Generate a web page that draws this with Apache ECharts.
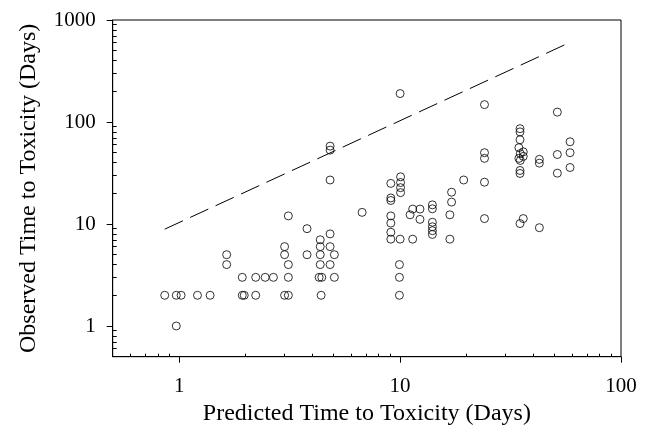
<!DOCTYPE html>
<html>
<head>
<meta charset="utf-8">
<script src="https://cdn.jsdelivr.net/npm/echarts@6/dist/echarts.min.js"></script>
<style>html,body{margin:0;padding:0;background:#fff}#c{width:652px;height:438px}</style>
</head>
<body>
<div id="c"></div>
<script>
// Observed vs predicted time to toxicity (days)
var predicted = [
  0.86, 0.97, 1.02, 0.97, 1.21, 1.38,
  1.64, 1.64,
  1.93, 1.93, 1.97,
  2.22, 2.22, 2.45, 2.67,
  3.0, 3.0, 3.12, 3.12, 3.0, 3.12, 3.12,
  3.79, 3.79,
  4.35, 4.35, 4.35, 4.35, 4.3, 4.42, 4.39,
  4.82, 4.82, 4.82, 5.04, 5.04,
  4.82, 4.82, 4.82,
  6.73,
  9.08, 9.08, 9.08, 9.08, 9.08, 9.08, 9.08,
  10.0, 10.05, 10.05, 10.05, 10.05, 10.0, 9.93, 9.93, 9.93,
  11.4, 11.1, 11.4,
  12.3, 12.3,
  14.0, 14.0, 14.0, 14.0, 14.0, 14.0,
  17.1, 17.1, 16.8, 16.8,
  19.4,
  24.1, 24.1, 24.1, 24.1, 24.1,
  34.9, 34.9, 34.9, 34.5, 36.1, 35.0, 36.1, 34.5, 35.0, 34.9, 34.9, 34.9, 36.1,
  42.7, 42.7, 42.7,
  51.5, 51.5, 51.5,
  58.8, 58.8, 58.8
];
var observed = [
  2, 2, 2, 1, 2, 2,
  5, 4,
  3, 2, 2,
  3, 2, 3, 3,
  6, 5, 4, 3, 2, 2, 12,
  9, 5,
  7, 6, 5, 4, 3, 3, 2,
  8, 6, 4, 5, 3,
  58, 53, 27,
  13,
  25, 18, 17, 12, 10.2, 8.3, 7.1,
  190, 29, 25.5, 22.7, 20.3, 7.1, 4, 3, 2,
  14, 12.3, 7.1,
  14, 11.1,
  15.4, 14.1, 10.4, 9.4, 8.6, 7.9,
  20.5, 16.4, 12.3, 7.1,
  27,
  148, 50, 44, 25.7, 11.3,
  86, 80, 67, 56, 51, 49, 46, 44, 42, 33.5, 31.3, 10.1, 11.3,
  43, 39.5, 9.2,
  125, 48, 31.5,
  64, 50, 35.8
];
var refLineX = [0.86, 56];
var refLineY = [8.9, 575];
var xMajorTicks = [1, 10, 100];
var xMinorTicks = [0.6, 0.7, 0.8, 0.9, 2, 3, 4, 5, 6, 7, 8, 9, 20, 30, 40, 50, 60, 70, 80, 90];
var yMajorTicks = [1, 10, 100, 1000];
var yMinorTicks = [0.6, 0.7, 0.8, 0.9, 2, 3, 4, 5, 6, 7, 8, 9, 20, 30, 40, 50, 60, 70, 80, 90, 200, 300, 400, 500, 600, 700, 800, 900];

var points = predicted.map(function (x, i) { return [x, observed[i]]; });
var linePts = refLineX.map(function (x, i) { return [x, refLineY[i]]; });

var FONT = 'Liberation Serif';
var chart = echarts.init(document.getElementById('c'), null, { renderer: 'canvas' });
function fmt(v) { return String(Math.round(v)); }
chart.setOption({
  animation: false,
  backgroundColor: '#fff',
  grid: { left: 112.7, right: 31, top: 20, bottom: 81.3, show: true, borderColor: '#000', borderWidth: 1, backgroundColor: 'transparent' },
  xAxis: [{
    type: 'log', logBase: 10, min: 0.5, max: 100, position: 'bottom',
    name: 'Predicted Time to Toxicity (Days)', nameLocation: 'middle', nameGap: 40,
    nameTextStyle: { fontFamily: FONT, fontSize: 24, color: '#000' },
    axisLine: { show: true, lineStyle: { color: '#000', width: 1 } },
    axisTick: { show: true, inside: false, length: 6, customValues: xMajorTicks, lineStyle: { color: '#000' } },
    axisLabel: { show: true, customValues: xMajorTicks, margin: 19, formatter: fmt, fontFamily: FONT, fontSize: 21, color: '#000' },
    splitLine: { show: false }, minorTick: { show: false }
  }, {
    type: 'log', logBase: 10, min: 0.5, max: 100, position: 'bottom',
    axisLine: { show: false },
    axisTick: { show: true, inside: true, length: 3, customValues: xMinorTicks, lineStyle: { color: '#000' } },
    axisLabel: { show: false },
    splitLine: { show: false }
  }],
  yAxis: [{
    type: 'log', logBase: 10, min: 0.5, max: 1000, position: 'left',
    name: 'Observed Time to Toxicity (Days)', nameLocation: 'middle', nameGap: 72,
    nameTextStyle: { fontFamily: FONT, fontSize: 24, color: '#000' },
    axisLine: { show: true, lineStyle: { color: '#000', width: 1 } },
    axisTick: { show: true, inside: false, length: 6, customValues: yMajorTicks, lineStyle: { color: '#000' } },
    axisLabel: { show: true, customValues: yMajorTicks, margin: 17, formatter: fmt, fontFamily: FONT, fontSize: 21, color: '#000' },
    splitLine: { show: false }, minorTick: { show: false }
  }, {
    type: 'log', logBase: 10, min: 0.5, max: 1000, position: 'left',
    axisLine: { show: false },
    axisTick: { show: true, inside: true, length: 4, customValues: yMinorTicks, lineStyle: { color: '#000' } },
    axisLabel: { show: false },
    splitLine: { show: false }
  }],
  series: [{
    type: 'line', xAxisIndex: 0, yAxisIndex: 0, data: linePts, symbol: 'none',
    lineStyle: { color: '#000', width: 1, type: [20, 8] }, silent: true
  }, {
    type: 'scatter', xAxisIndex: 0, yAxisIndex: 0, data: points, symbol: 'circle', symbolSize: 8,
    itemStyle: { color: 'rgba(0,0,0,0)', borderColor: '#000', borderWidth: 1 }
  }]
});
</script>
</body>
</html>
